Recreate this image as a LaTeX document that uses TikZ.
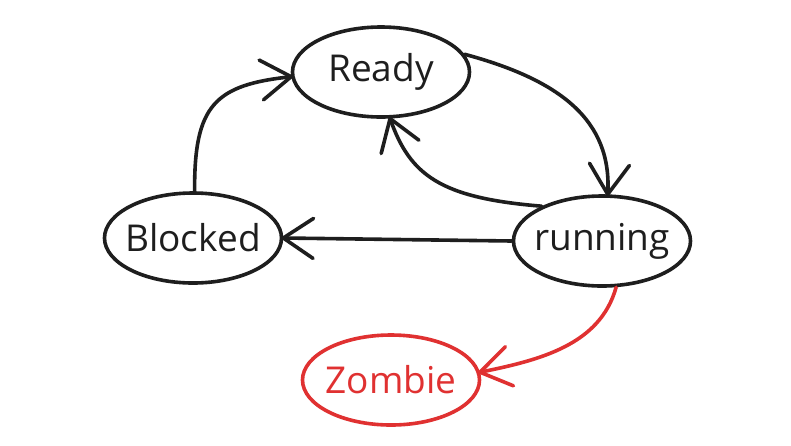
\documentclass[tikz,border=0pt]{standalone}
\usepackage{fontspec}
\setmainfont{Open Sans}
\usetikzlibrary{arrows.meta,shapes.geometric}
\definecolor{ink}{HTML}{1E1E1E}
\definecolor{zred}{HTML}{E03131}
\newcommand\zerowidthlabel[1]{\makebox[0pt]{#1}}
\pgfdeclarearrow{
  name = OpenVee,
  parameters = {\the\pgfarrowlength,\the\pgfarrowwidth},
  setup code = {
    \pgfarrowssettipend{0pt}
    \pgfarrowssetlineend{-1pt}
    \pgfarrowssavethe\pgfarrowlength
    \pgfarrowssavethe\pgfarrowwidth
  },
  drawing code = {
    \pgfsetroundcap
    \pgfsetroundjoin
    \pgfsetdash{}{0pt}
    \pgfpathmoveto{\pgfpoint{-\pgfarrowlength}{0.5\pgfarrowwidth}}
    \pgfpathlineto{\pgfpointorigin}
    \pgfpathlineto{\pgfpoint{-\pgfarrowlength}{-0.5\pgfarrowwidth}}
    \pgfusepathqstroke
  },
  defaults = {length=30pt,width=40pt}
}
\begin{document}
\begin{tikzpicture}[x=1pt,y=-1pt,
  statebox/.style={ellipse,draw=ink,line width=3.6pt,inner sep=0pt,
    minimum width=177pt,minimum height=90pt,text=ink,
    font=\fontsize{37}{44}\selectfont},
  conn/.style={draw=ink,line width=3.6pt,line cap=round,
    -{OpenVee[length=30pt,width=40pt]}}]
\useasboundingbox[fill=white] (0,0) rectangle (791,445);
\node[statebox] (ready) at (381,72) {\zerowidthlabel{Ready}};
\node[statebox] (blocked) at (193,238) {\zerowidthlabel{Blocked}};
\node[statebox] (running) at (602,241) {\zerowidthlabel{running}};
\node[statebox,draw=zred,text=zred] (zombie) at (391,380) {\zerowidthlabel{Zombie}};
\draw[conn] (blocked.88) .. controls (194,105) and (215,85) .. (ready.183);
\draw[conn] (ready.12) .. controls (560,80) and (612,120) .. (running.83);
\draw[conn] (running.150) .. controls (440,198) and (410,175) .. (ready.281);
\draw[conn] (running.west) -- (blocked.east);
\draw[conn,draw=zred] (running.-73) .. controls (600,345) and (540,360) .. (zombie.5);
\end{tikzpicture}
\end{document}
